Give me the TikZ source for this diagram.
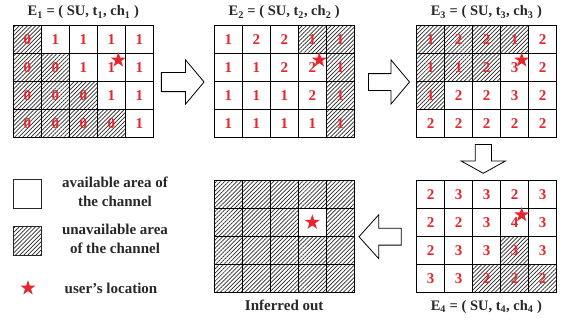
\documentclass[tikz,border=0pt]{standalone}
\usepackage{fontspec}
\setmainfont{Liberation Serif}
\usetikzlibrary{shapes.geometric,shapes.arrows,patterns.meta}

\definecolor{digitred}{RGB}{232,36,44}
\definecolor{inkgray}{RGB}{40,40,40}
\definecolor{hatchgray}{RGB}{40,40,40}

\tikzset{
  cell/.style={draw=black, line width=1.2pt, minimum width=28pt, minimum height=27.9pt,
    inner sep=0pt, text=digitred, font=\fontsize{15}{15}\selectfont\bfseries},
  busy/.style={pattern={Lines[angle=45,distance=2.9pt,line width=0.7pt]}, pattern color=hatchgray},
  hatch/.code={\ifnum#1=1 \pgfkeysalso{busy}\fi},
  title/.style={text=inkgray, font=\fontsize{14.5}{15}\selectfont\bfseries, inner sep=0pt, anchor=base},
  keybox/.style={draw=inkgray, line width=1pt, minimum size=28.4pt, inner sep=0pt},
  keytext/.style={text=inkgray, font=\fontsize{15}{18.5}\selectfont\bfseries, align=center, inner sep=0pt, anchor=base},
  userstar/.style={star, star points=5, star point ratio=2.6, fill=digitred, inner sep=0pt, minimum size=16pt},
  blockarrow/.style={single arrow, draw=black, line width=0.8pt, fill=white, inner xsep=0pt,
    text height=0pt, text depth=0pt, minimum width=0pt}
}

% one 5x4 grid of cells: name, left, top, value/hatch list
\newcommand{\cellgrid}[4]{%
  \foreach \v/\h [count=\k from 0] in {#4}{
    \pgfmathtruncatemacro\ir{div(\k,5)}
    \pgfmathtruncatemacro\ic{mod(\k,5)}
    \node[cell, hatch=\h] (#1-\ir-\ic) at ({#2+28*\ic+14},{#3+27.9*\ir+13.95}) {\v};
  }%
}

\begin{document}
\begin{tikzpicture}[x=1pt, y=-1pt]
  \useasboundingbox (0,0) rectangle (565,324);

  % grids
  \cellgrid{ga}{13.3}{25.7}{0/1,1/0,1/0,1/0,1/0, 0/1,0/1,1/0,1/0,1/0, 0/1,0/1,0/1,1/0,1/0, 0/1,0/1,0/1,0/1,1/0}
  \cellgrid{gb}{214.3}{25.7}{1/0,2/0,2/0,1/1,1/1, 1/0,1/0,2/0,2/0,1/1, 1/0,1/0,1/0,2/0,1/1, 1/0,1/0,1/0,1/0,1/1}
  \cellgrid{gc}{416.7}{25.7}{1/1,2/1,2/1,1/1,2/0, 1/1,1/1,2/1,3/0,2/0, 1/1,2/0,2/0,3/0,2/0, 2/0,2/0,2/0,2/0,2/0}
  \cellgrid{gd}{416.7}{180.5}{2/0,3/0,3/0,2/0,3/0, 2/0,2/0,3/0,4/0,3/0, 2/0,3/0,3/0,3/1,3/0, 3/0,3/0,2/1,2/1,2/1}
  \cellgrid{ge}{214.3}{180.5}{ /1, /1, /1, /1, /1,  /1, /1, /1, /0, /1,  /1, /1, /1, /1, /1,  /1, /1, /1, /1, /1}

  % titles
  \node[title] (ta) at (83.3,16) {E\textsubscript{1} = ( SU, t\textsubscript{1}, ch\textsubscript{1} )};
  \node[title] (tb) at (284.2,16) {E\textsubscript{2} = ( SU, t\textsubscript{2}, ch\textsubscript{2} )};
  \node[title] (tc) at (486.4,16) {E\textsubscript{3} = ( SU, t\textsubscript{3}, ch\textsubscript{3} )};
  \node[title] (td) at (486.4,310) {E\textsubscript{4} = ( SU, t\textsubscript{4}, ch\textsubscript{4} )};
  \node[title, font=\fontsize{15}{15}\selectfont\bfseries] (te) at (284.2,310) {Inferred out};

  % user positions
  \node[userstar] (sa) at ([shift={(7,-7.5)}]ga-1-3.center) {};
  \node[userstar] (sb) at ([shift={(7,-7.5)}]gb-1-3.center) {};
  \node[userstar] (sc) at ([shift={(7,-7.5)}]gc-1-3.center) {};
  \node[userstar] (sd) at ([shift={(7,-7.5)}]gd-1-3.center) {};
  \node[userstar] (se) at (ge-1-3.center) {};

  % block arrows between steps
  \node[blockarrow, minimum height=42.7pt, inner ysep=9.2pt, single arrow head extend=12.5pt,
    single arrow tip angle=100] (ab) at (178.7,82) {};
  \node[blockarrow, minimum height=41pt, inner ysep=8pt, single arrow head extend=13.6pt,
    single arrow tip angle=100] (bc) at (385.5,82) {};
  \node[blockarrow, minimum height=28.7pt, inner xsep=7.7pt, inner ysep=0pt, single arrow head extend=14pt,
    single arrow tip angle=122, shape border rotate=270] (cd) at (483.3,156.7) {};
  \node[blockarrow, minimum height=42.3pt, inner ysep=8pt, single arrow head extend=13.6pt,
    single arrow tip angle=96, shape border rotate=180] (de) at (383.9,236.7) {};

  % legend
  \node[keybox] (keyfree) at (27.5,194) {};
  \node[keybox, busy] (keybusy) at (27.5,240.8) {};
  \node[userstar] (keyuser) at (28,288) {};
  \node[keytext] (keyfreetxt) at (115,206) {available area of\\the channel};
  \node[keytext] (keybusytxt) at (115,253.3) {unavailable area\\of the channel};
  \node[keytext] (keyusertxt) at (111,293.3) {user's location};
\end{tikzpicture}
\end{document}
